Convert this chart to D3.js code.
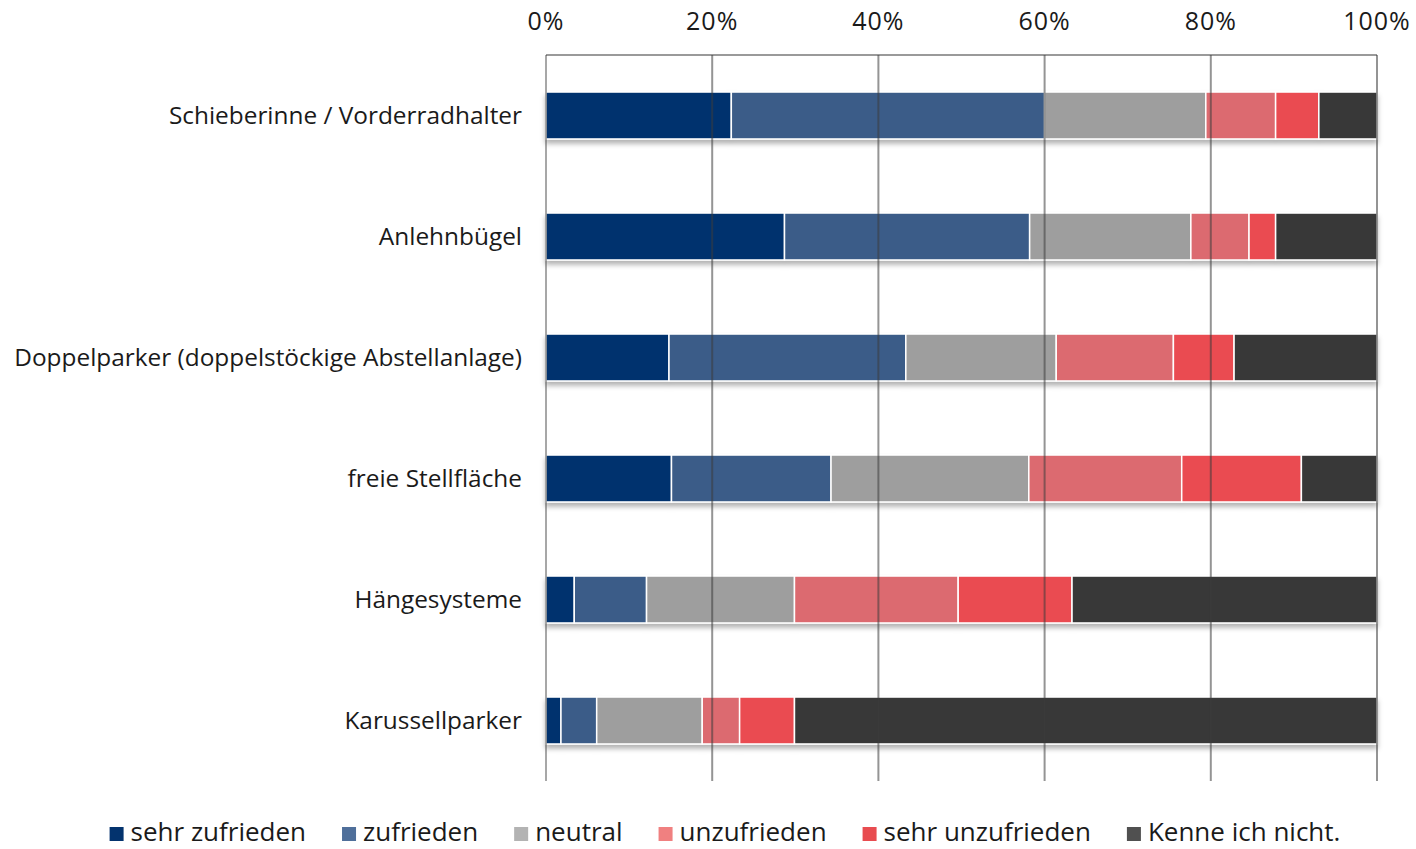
<!DOCTYPE html>
<html>
<head>
<meta charset="utf-8">
<script src="https://cdn.jsdelivr.net/npm/d3@7"></script>
<style>
  html, body { margin: 0; padding: 0; background: #fff; }
  svg { display: block; font-family: "Open Sans", sans-serif; }
</style>
</head>
<body>
<div id="chart"></div>
<script>
// Data
const categories = [
    'Schieberinne / Vorderradhalter',
    'Anlehnbügel',
    'Doppelparker (doppelstöckige Abstellanlage)',
    'freie Stellfläche',
    'Hängesysteme',
    'Karussellparker'
];
const seriesNames = ['sehr zufrieden', 'zufrieden', 'neutral', 'unzufrieden', 'sehr unzufrieden', 'Kenne ich nicht.'];
const sehrZufrieden   = [22.3, 28.7, 14.8, 15.1, 3.4, 1.8];
const zufrieden       = [37.7, 29.5, 28.5, 19.2, 8.7, 4.3];
const neutral         = [19.4, 19.4, 18.1, 23.8, 17.8, 12.7];
const unzufrieden     = [8.4, 7.0, 14.1, 18.4, 19.7, 4.5];
const sehrUnzufrieden = [5.2, 3.2, 7.3, 14.4, 13.7, 6.6];
const kenneIchNicht   = [7.0, 12.2, 17.2, 9.1, 36.7, 70.1];
const tickValues = [0, 20, 40, 60, 80, 100];

const barColors    = ['#03336e', '#3b5c88', '#9e9e9e', '#dc6b6f', '#ea4b51', '#383838'];
const legendColors = ['#03336e', '#4f6f9a', '#b3b3b3', '#f08080', '#e84c50', '#505050'];

const W = 1416, H = 849;
const margin = { top: 55, right: 39, bottom: 68, left: 546 };

const svg = d3.select('#chart').append('svg')
    .attr('width', W)
    .attr('height', H);

// drop shadow under the bars
const defs = svg.append('defs');
const filter = defs.append('filter').attr('id', 'shadow')
    .attr('x', '-5%').attr('y', '-20%').attr('width', '110%').attr('height', '160%');
filter.append('feDropShadow')
    .attr('dx', 0).attr('dy', 4).attr('stdDeviation', 2.5)
    .attr('flood-color', '#000').attr('flood-opacity', 0.3);

const x = d3.scaleLinear().domain([0, 100]).range([margin.left, W - margin.right]);
const y = d3.scaleBand().domain(categories).range([margin.top, H - margin.bottom])
    .paddingInner(0.612).paddingOuter(0.306);

// stacked data
const rows = categories.map((c, i) => {
    const r = { category: c };
    [sehrZufrieden, zufrieden, neutral, unzufrieden, sehrUnzufrieden, kenneIchNicht]
        .forEach((s, k) => { r[seriesNames[k]] = s[i]; });
    return r;
});
const stacked = d3.stack().keys(seriesNames)(rows);

// top axis line
svg.append('line')
    .attr('x1', x(0)).attr('x2', x(100))
    .attr('y1', margin.top).attr('y2', margin.top)
    .attr('stroke', '#9a9a9a').attr('stroke-width', 2);

// bars
const layers = svg.append('g').attr('filter', 'url(#shadow)')
    .selectAll('g')
    .data(stacked)
    .join('g')
    .attr('fill', (d, i) => barColors[i]);

layers.selectAll('rect')
    .data(d => d)
    .join('rect')
    .attr('x', d => x(d[0]))
    .attr('y', d => y(d.data.category))
    .attr('width', d => x(d[1]) - x(d[0]))
    .attr('height', y.bandwidth())
    .attr('stroke', '#fff')
    .attr('stroke-width', 1.5);

// gridlines drawn over the bars, semi-transparent
svg.append('g')
    .selectAll('line')
    .data(tickValues)
    .join('line')
    .attr('x1', d => x(d)).attr('x2', d => x(d))
    .attr('y1', margin.top).attr('y2', H - margin.bottom)
    .attr('stroke', '#3c3c3c')
    .attr('stroke-opacity', d => d === 0 ? 0.45 : 0.55)
    .attr('stroke-width', 2);

// top axis labels
svg.append('g')
    .selectAll('text')
    .data(tickValues)
    .join('text')
    .attr('x', d => x(d))
    .attr('y', 30)
    .attr('text-anchor', 'middle')
    .attr('font-size', '25px')
    .attr('letter-spacing', '1px')
    .attr('fill', '#1a1a1a')
    .text(d => d + '%');

// category labels
svg.append('g')
    .selectAll('text')
    .data(categories)
    .join('text')
    .attr('x', margin.left - 24)
    .attr('y', d => y(d) + y.bandwidth() / 2)
    .attr('dy', '0.35em')
    .attr('text-anchor', 'end')
    .attr('font-size', '24.4px')
    .attr('fill', '#1a1a1a')
    .text(d => d);

// legend
const legend = svg.append('g');
const items = legend.selectAll('g')
    .data(seriesNames)
    .join('g');
items.append('rect')
    .attr('width', 14).attr('height', 14)
    .attr('y', -14)
    .attr('fill', (d, i) => legendColors[i]);
items.append('text')
    .attr('x', 21)
    .attr('font-size', '26px')
    .attr('fill', '#1a1a1a')
    .text(d => d);

let offset = 0;
const positions = [];
items.each(function() {
    positions.push(offset);
    const tw = d3.select(this).select('text').node().getComputedTextLength();
    offset += 21 + tw + 36;
});
const totalWidth = offset - 36;
const legendStart = 725 - totalWidth / 2;
items.attr('transform', (d, i) => `translate(${legendStart + positions[i]},841)`);
</script>
</body>
</html>
